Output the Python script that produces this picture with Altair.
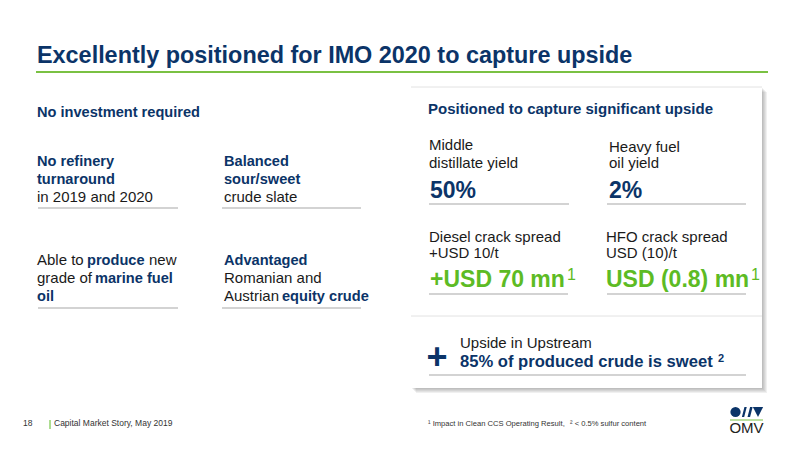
import altair as alt
import pandas as pd

NAVY = "#0b3468"
BLACK = "#1a1a1a"
GREEN = "#5dbb24"
FONT = "Liberation Sans"

# page pixels, the chart starts 8px in
X_DOMAIN = [8, 778]
Y_DOMAIN = [438, 8]

title_text = ["Excellently positioned for IMO 2020 to capture upside"]
title_x = [37]
title_y = [63]

navy_text = ["No investment required", "No refinery", "turnaround", "Balanced", "sour/sweet",
             "produce", "marine fuel", "oil", "Advantaged", "equity crude"]
navy_x = [37, 37, 37, 224, 224, 87, 95, 37, 224, 282]
navy_y = [117, 166, 184, 166, 184, 265, 283, 301, 265, 301]

panel_title = ["Positioned to capture significant upside"]
panel_title_x = [428]
panel_title_y = [114]

black_text = ["in 2019 and 2020", "crude slate", "Able to", "new", "grade of", "Romanian and", "Austrian",
              "Middle", "distillate yield", "Heavy fuel", "oil yield",
              "Diesel crack spread", "+USD 10/t", "HFO crack spread", "USD (10)/t", "Upside in Upstream"]
black_x = [37, 224, 37, 149, 37, 224, 224, 429, 429, 609, 609, 429, 429, 606, 606, 460]
black_y = [202, 202, 265, 265, 283, 283, 301, 150, 168, 152, 168, 242, 258, 242, 258, 348]

big_text = ["50%", "2%"]
big_x = [430, 609]
big_y = [198, 198]

green_text = ["+USD 70 mn", "USD (0.8) mn"]
green_x = [430, 606]
green_y = [287, 287]

sup_text = ["1", "1"]
sup_x = [567, 751]
sup_y = [280, 280]

upside_text = ["85% of produced crude is sweet"]
upside_x = [460]
upside_y = [367]

footer_text = ["18", "Capital Market Story, May 2019"]
footer_x = [23, 54]
footer_y = [426, 426]

note_text = ["\u00b9 Impact in Clean CCS Operating Result,", "\u00b2 < 0.5% sulfur content"]
note_x = [428, 570]
note_y = [426, 426]

# grey rules: x start, x end, y
rule_x = [38, 222, 38, 222, 429, 607, 429, 607, 429]
rule_x2 = [178, 361, 178, 361, 569, 746, 568, 746, 746]
rule_y = [208, 208, 308, 308, 204, 204, 294, 294, 375]

# logo shapes
logo_x = [735.5, 747, 758]
logo_y = [412, 412, 412]
logo_shape = ["circle",
              "M-1,1 L-0.5,-1 L-0.05,-1 L-0.55,1 Z M0.1,1 L0.6,-1 L1.1,-1 L0.6,1 Z",
              "M-1,-1 L1,-1 L0,1 Z"]


def x_enc():
    return alt.X("x:Q", scale=alt.Scale(domain=X_DOMAIN), axis=None)


def y_enc():
    return alt.Y("y:Q", scale=alt.Scale(domain=Y_DOMAIN), axis=None)


def texts(text, xs, ys, size, color, bold=False, align="left"):
    df = pd.DataFrame({"t": text, "x": xs, "y": ys})
    return alt.Chart(df).mark_text(
        font=FONT, fontSize=size, color=color, align=align, baseline="alphabetic",
        fontWeight="bold" if bold else "normal"
    ).encode(x_enc(), y_enc(), text="t:N")


def box(x1, x2, y1, y2, color, opacity=1.0):
    df = pd.DataFrame({"x": [x1], "x2": [x2], "y": [y1], "y2": [y2]})
    return alt.Chart(df).mark_rect(color=color, opacity=opacity).encode(
        x_enc(), x2="x2:Q", y=y_enc(), y2="y2:Q")


def rule(xs, x2s, ys, color, width):
    df = pd.DataFrame({"x": xs, "x2": x2s, "y": ys})
    return alt.Chart(df).mark_rule(color=color, strokeWidth=width).encode(
        x_enc(), x2="x2:Q", y=y_enc())


shadow = [box(411 + d, 762 + d, 87 + d, 388 + d, "#555555", 0.09) for d in [0, 1, 2, 3, 4, 5]]
panel = box(411, 762, 87, 388, "white")
panel_edge = rule([411, 411], [762, 762], [87, 316], "#e2e2e2", 1)

logo_df = pd.DataFrame({"x": logo_x, "y": logo_y, "s": logo_shape})
logo = alt.Chart(logo_df).mark_point(filled=True, opacity=1, color=NAVY, size=105).encode(
    x_enc(), y_enc(), shape=alt.Shape("s:N", scale=None))

sep_df = pd.DataFrame({"x": [50], "y": [420], "y2": [429]})
sep = alt.Chart(sep_df).mark_rule(color=GREEN, strokeWidth=1).encode(x_enc(), y=y_enc(), y2="y2:Q")

chart = alt.layer(
    *shadow,
    panel,
    panel_edge,
    rule([36], [768], [72], "#7ac143", 2),
    rule(rule_x, rule_x2, rule_y, "#c4c4c4", 1.3),
    rule([730], [763], [420], "#7ac143", 1),
    sep,
    texts(title_text, title_x, title_y, 23.4, NAVY, True),
    texts(navy_text, navy_x, navy_y, 14.6, NAVY, True),
    texts(panel_title, panel_title_x, panel_title_y, 15, NAVY, True),
    texts(black_text, black_x, black_y, 15, BLACK),
    texts(big_text, big_x, big_y, 23, NAVY, True),
    texts(green_text, green_x, green_y, 23, GREEN, True),
    texts(sup_text, sup_x, sup_y, 16, GREEN),
    texts(upside_text, upside_x, upside_y, 16.6, NAVY, True),
    texts(["2"], [718], [362], 11, NAVY, True),
    texts(["+"], [437], [369], 36, NAVY, True, "center"),
    texts(footer_text, footer_x, footer_y, 8.5, "#333333"),
    texts(note_text, note_x, note_y, 7.6, "#333333"),
    texts(["OMV"], [746.5], [433], 15, "#222222", False, "center"),
    logo,
).properties(width=770, height=430, padding=0, background="white").configure_view(strokeWidth=0)

chart.save("out.html", embed_options={"renderer": "svg", "actions": False})
